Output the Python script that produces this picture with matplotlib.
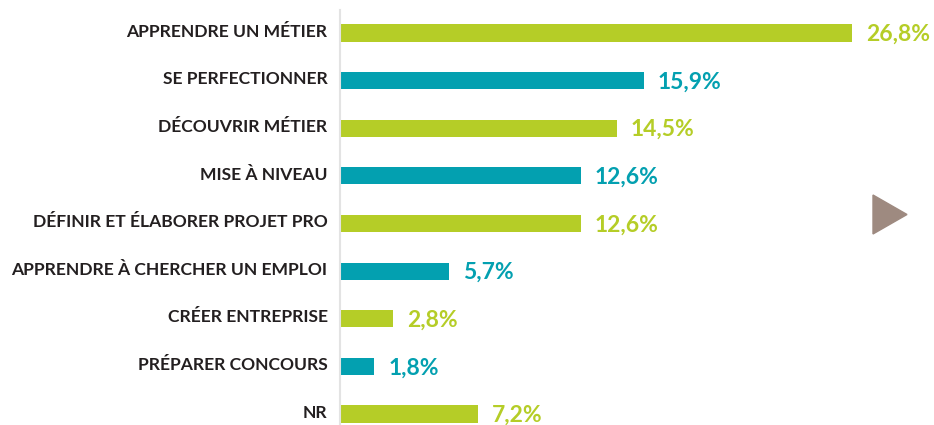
import matplotlib.pyplot as plt
from matplotlib.patches import Polygon

labels = ['APPRENDRE UN MÉTIER', 'SE PERFECTIONNER', 'DÉCOUVRIR MÉTIER', 'MISE À NIVEAU',
          'DÉFINIR ET ÉLABORER PROJET PRO', 'APPRENDRE À CHERCHER UN EMPLOI',
          'CRÉER ENTREPRISE', 'PRÉPARER CONCOURS', 'NR']
values = [26.8, 15.9, 14.5, 12.6, 12.6, 5.7, 2.8, 1.8, 7.2]
value_text = ['26,8%', '15,9%', '14,5%', '12,6%', '12,6%', '5,7%', '2,8%', '1,8%', '7,2%']

green = '#B5CD27'
teal = '#03A0B0'
colors = [green if i % 2 == 0 else teal for i in range(len(values))]

plt.rcParams['font.family'] = ['Lato', 'DejaVu Sans']

W, H = 934, 425
fig = plt.figure(figsize=(W / 100, H / 100), dpi=100)
ax = fig.add_axes([340 / W, 0, 1 - 340 / W, 415 / H])

y = list(range(len(values)))
ax.barh(y, values, height=0.36, color=colors)
ax.set_xlim(0, 594 / 19.1)
ax.set_ylim(8.23, -0.483)

for i, (v, t) in enumerate(zip(values, value_text)):
    ax.annotate(t, (v, i), xytext=(10, -1), textcoords='offset points',
                va='center', ha='left', fontsize=16.5, fontweight='bold', color=colors[i])
    ax.annotate(labels[i], (0, i), xytext=(-9, 1), textcoords='offset points',
                va='center', ha='right', fontsize=12.6, fontweight='bold', color='#231F20')

for s in ['top', 'right', 'bottom']:
    ax.spines[s].set_visible(False)
ax.spines['left'].set_color('#E3E3E3')
ax.spines['left'].set_linewidth(1.5)
ax.set_xticks([])
ax.set_yticks([])

# decorative arrow on the right
tri = Polygon([[873 / W, 1 - 195 / H], [873 / W, 1 - 234 / H], [907 / W, 1 - 214.5 / H]],
              closed=True, transform=fig.transFigure, color='#9E8A80')
fig.patches.append(tri)

fig.savefig('out.png', dpi=100)
